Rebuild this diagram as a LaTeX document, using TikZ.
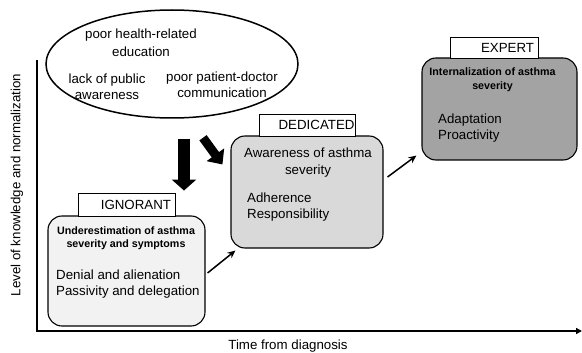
\documentclass[tikz,border=0pt]{standalone}
\usepackage{fontspec}
\setmainfont{Liberation Sans}
\usetikzlibrary{arrows.meta,shapes.geometric}
\definecolor{ignfill}{HTML}{F2F2F2}
\definecolor{dedfill}{HTML}{D9D9D9}
\definecolor{expfill}{HTML}{A3A3A3}
\tikzset{
  txt/.style={font=\fontsize{13.3}{16.5}\selectfont, inner sep=0pt},
  btxt/.style={font=\fontsize{10.7}{13}\selectfont\bfseries, inner sep=0pt, align=center},
  stagebox/.style={draw, line width=1.1pt, rounded corners=14pt, inner sep=0pt},
  labbox/.style={draw, line width=0.9pt, fill=white, inner sep=0pt, align=right,
    font=\fontsize{13.3}{16}\selectfont},
  axisline/.style={line width=1.7pt, -{Triangle[length=6pt,width=6pt]}},
  smallarrow/.style={line width=1.5pt, -{Stealth[length=8pt,width=7pt]}},
  bigarrow/.style={line width=12pt, -{Triangle[length=11pt,width=24pt]}},
  midarrow/.style={line width=9pt, -{Triangle[length=12pt,width=21pt]}},
}
\begin{document}
\begin{tikzpicture}[x=1pt,y=-1pt]
\useasboundingbox (0,0) rectangle (582,353);
% axes
\coordinate (ytop) at (37,60);
\coordinate (orig) at (37,331);
\coordinate (xend) at (582,331);
\draw[axisline] (ytop) -- (orig) -- (xend);
\node[txt, rotate=90] (ylab) at (17,185) {Level of knowledge and normalization};
\node[txt] (xlab) at (288,346) {Time from diagnosis};
% ellipse
\node[draw, ellipse, line width=1.5pt, minimum width=252pt, minimum height=108pt] (ell) at (172,64) {};
\node[txt, align=center] (e1) at (141,42.5) {poor health-related\\[2pt]education};
\node[txt, align=center] (e2) at (107,86.5) {lack of public\\awareness};
\node[txt, align=center] (e3) at (222,84.5) {poor patient-doctor\\communication};
% stage boxes
\node[stagebox, fill=ignfill, minimum width=157pt, minimum height=110pt] (ign) at (126.5,271) {};
\node[stagebox, fill=dedfill, minimum width=152pt, minimum height=112pt] (ded) at (307,192) {};
\node[stagebox, fill=expfill, minimum width=155pt, minimum height=102pt] (exp) at (499.5,109) {};
% labels
\node[labbox, minimum width=97pt, minimum height=23pt, text width=89pt] (ignlab) at (126.5,204.5) {IGNORANT};
\node[labbox, minimum width=96pt, minimum height=22pt, text width=95pt] (dedlab) at (307,125) {DEDICATED};
\node[labbox, minimum width=88pt, minimum height=21pt, text width=80pt] (explab) at (494,47.5) {EXPERT};
% ignorant text
\node[btxt] (i1) at (126,238) {Underestimation of asthma\\severity and symptoms};
\node[txt, anchor=west, align=left] (i2) at (56,284) {Denial and alienation\\Passivity and delegation};
% dedicated text
\node[txt, align=center] (d1) at (308,162.5) {Awareness of asthma\\severity};
\node[txt, anchor=west, align=left] (d2) at (247,207) {Adherence\\Responsibility};
% expert text
\node[btxt] (x1) at (492.5,80) {Internalization of asthma\\[1pt]severity};
\node[txt, anchor=west] (x2) at (438,120) {Adaptation};
\node[txt, anchor=west] (x3) at (438,136) {Proactivity};
% arrows
\draw[bigarrow] ([xshift=12pt,yshift=-20pt]ell.south) -- ([xshift=57.5pt,yshift=2pt]ignlab.north);
\draw[midarrow] ([xshift=31pt,yshift=-19pt]ell.south) -- ([xshift=-8pt,yshift=-29pt]ded.north west);
\draw[smallarrow] ([xshift=2pt,yshift=-2pt]ign.east) -- ([xshift=5pt,yshift=-2pt]ded.south west);
\draw[smallarrow] ([xshift=4pt,yshift=15pt]ded.east) -- ([xshift=-5pt,yshift=5pt]exp.south west);
\end{tikzpicture}
\end{document}
